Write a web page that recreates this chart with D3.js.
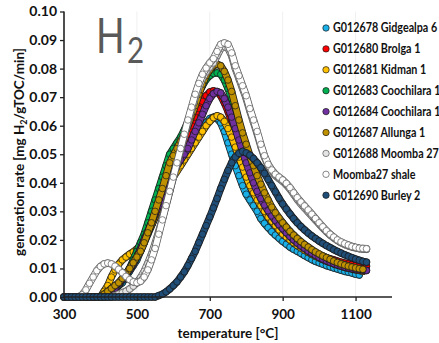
<!DOCTYPE html>
<html><head><meta charset="utf-8">
<script src="https://cdn.jsdelivr.net/npm/d3@7"></script>
<style>
html,body{margin:0;padding:0;background:#fff;}
svg{display:block;}
text{font-family:Lato,"Open Sans",sans-serif;}
</style></head>
<body>
<svg id="c" width="439" height="343"></svg>
<script>
// ---------- data ----------
const temperatures = [
 300,310,320,330,340,350,360,370,380,390,
 400,410,420,430,440,450,460,470,480,490,
 500,510,520,530,540,550,560,570,580,590,
 600,610,620,630,640,650,660,670,680,690,
 700,710,720,730,740,750,760,770,780,790,
 800,810,820,830,840,850,860,870,880,890,
 900,910,920,930,940,950,960,970,980,990,
 1000,1010,1020,1030,1040,1050,1060,1070,1080,1090,
 1100,1110,1120,1130];

const seriesNames = ["G012678 Gidgealpa 6","G012680 Brolga 1","G012681 Kidman 1","G012683 Coochilara 1",
  "G012684 Coochilara 1","G012687 Allunga 1","G012688 Moomba 27","Moomba27 shale","G012690 Burley 2"];
const seriesColors = ["#1ab0e8","#ff0000","#ffc000","#00b050","#7030a0","#bf9000","#e4e4e4","#ffffff","#1f4e79"];

const gidgealpa6 = [
 0,0,0,0,0,0,0,0,0,0,
 0,0,.001,.002,.003,.004,.005,.007,.009,.011,
 .013,.016,.019,.022,.025,.028,.031,.034,.037,.040,
 .043,.045,.047,.049,.051,.053,.055,.057,.059,.061,
 .0625,.063,.0625,.061,.058,.054,.050,.046,.0425,.039,
 .036,.034,.032,.030,.0275,.0258,.0243,.0229,.0217,.0206,
 .0195,.0185,.0175,.0167,.016,.0153,.0145,.0138,.0131,.0125,
 .012,.0115,.011,.0106,.0102,.0098,.0094,.009,.0087,.0084,
 .008,.0077,null,null];
const brolga1 = [
 0,0,0,0,0,0,0,0,0,0,
 0,0,.001,.002,.003,.0045,.006,.008,.010,.012,
 .015,.018,.021,.024,.027,.030,.033,.036,.039,.042,
 .045,.048,.051,.054,.057,.060,.063,.066,.0685,.0705,
 .0718,.0722,.0718,.0705,.068,.065,.0615,.058,.054,.050,
 .0465,.043,.040,.037,.0345,.032,.030,.028,.0265,.025,
 .0235,.0222,.021,.020,.019,.018,.0172,.0164,.0157,.0152,
 .0148,.0143,.0138,.0134,.013,.0126,.0122,.0119,.0116,.0114,
 .0112,.011,.0109,.0108];
const kidman1 = [
 0,0,0,0,0,0,0,0,0,0,
 0,.002,.004,.007,.0095,.0115,.013,.014,.015,.0158,
 .0168,.018,.020,.0225,.025,.028,.031,.034,.037,.040,
 .042,.044,.046,.048,.050,.052,.054,.056,.058,.060,
 .0615,.0628,.0635,.063,.0615,.059,.056,.0525,.049,.0455,
 .042,.039,.0365,.034,.032,.030,.028,.0265,.025,.0235,
 .022,.021,.020,.019,.018,.0172,.0164,.0157,.015,.0143,
 .0137,.0131,.0126,.0121,.0116,.0112,.0108,.0104,.0101,.0098,
 .0095,.0093,.009,null];
const coochilara683 = [
 0,0,0,0,0,0,0,0,0,0,
 0,0,.001,.002,.003,.004,.006,.008,.010,.013,
 .016,.019,.022,.026,.030,.034,.038,.042,.046,.050,
 .052,.054,.056,.0585,.0615,.065,.0685,.0715,.074,.0762,
 .0775,.0783,.0785,.078,.076,.073,.0695,.0655,.061,.0565,
 .052,.048,.044,.041,.038,.035,.0325,.030,.028,.026,
 .0245,.023,.0216,.0204,.0193,.0183,.0174,.0166,.0158,.0151,
 .0144,.0138,.0132,.0127,.0122,.0117,.0113,.0109,.0106,.0103,
 .010,.0098,.0096,null];
const coochilara684 = [
 0,0,0,0,0,0,0,0,0,0,
 0,0,.001,.002,.003,.0045,.006,.008,.0095,.0115,
 .014,.017,.020,.023,.026,.029,.032,.035,.038,.041,
 .044,.046,.048,.050,.052,.055,.058,.061,.064,.067,
 .0695,.0712,.072,.0715,.0695,.0665,.063,.059,.055,.051,
 .047,.0435,.040,.037,.0345,.0322,.0302,.0284,.0268,.0253,
 .0239,.0225,.0212,.020,.0189,.0179,.017,.0161,.0153,.0146,
 .0139,.0133,.0127,.0122,.0117,.0113,.0109,.0105,.0102,.0099,
 .0097,.0095,.0094,.0093];
const allunga1 = [
 0,0,0,0,0,0,0,0,0,0,
 0,.001,.002,.003,.004,.005,.0065,.008,.010,.012,
 .014,.016,.019,.0225,.026,.030,.034,.038,.0425,.047,
 .0495,.052,.0545,.057,.060,.0635,.067,.071,.0745,.0775,
 .0795,.081,.0815,.081,.079,.076,.072,.067,.062,.0575,
 .0535,.0495,.046,.0425,.0395,.0365,.034,.0315,.0295,.0277,
 .026,.0245,.023,.0217,.0205,.0194,.0184,.0175,.0166,.0158,
 .0151,.0144,.0138,.0132,.0126,.0121,.0116,.0112,.0108,.0105,
 .0102,.0099,.0097,null];
const moomba27 = [
 0,0,0,0,0,0,0,0,0,0,
 0,0,0,0,.0005,.001,.0015,.002,.0028,.0038,
 .005,.0068,.009,.0118,.015,.0188,.023,.0275,.0322,.037,
 .0418,.0466,.0514,.0562,.061,.0655,.0698,.0735,.0765,.0788,
 .0805,.082,.0845,.087,.0877,.0872,.0845,.080,.0765,.073,
 .0695,.0652,.0612,.0572,.0528,.049,.046,.044,.0425,.0415,
 .0405,.0393,.0378,.036,.0342,.0326,.0312,.0298,.0284,.027,
 .0256,.0242,.0229,.0217,.0207,.0198,.019,.0184,.0179,.0175,
 .0172,.0169,.0168,.0167];
const moomba27shale = [
 0,0,0,0,0,.0008,.0025,.0048,.007,.0092,
 .0107,.0116,.0119,.0116,.0108,.0097,.0085,.0072,.0061,.0053,
 .005,.0055,.007,.0095,.013,.017,.022,.027,.032,.037,
 .042,.047,.052,.057,.062,.0665,.071,.0748,.078,.0802,
 .082,.0835,.086,.0885,.089,.0885,.0855,.081,.0775,.074,
 .0705,.066,.062,.058,.0535,.0495,.0465,.0445,.043,.042,
 .041,.0398,.0383,.0365,.0348,.0333,.0319,.0305,.029,.0275,
 .026,.0246,.0232,.022,.021,.020,.0193,.0187,.0182,.0177,
 .0174,.0171,.017,.0169];
const burley2 = [
 0,0,0,0,0,0,0,0,0,0,
 0,0,0,0,0,0,0,0,0,0,
 0,0,0,0,0,0,.0005,.001,.0018,.0028,
 .004,.0053,.007,.0088,.011,.0135,.016,.019,.022,.025,
 .028,.0312,.0345,.038,.0412,.0443,.047,.049,.0503,.051,
 .0505,.0497,.0485,.047,.0453,.0433,.0412,.039,.0368,.0346,
 .0326,.0308,.0291,.0275,.026,.0247,.0235,.0224,.0214,.0205,
 .0196,.0188,.018,.0173,.0166,.016,.0154,.0148,.0143,.0138,
 .0133,.0129,.0125,.0122];

const seriesValues = [gidgealpa6, brolga1, kidman1, coochilara683, coochilara684, allunga1, moomba27, moomba27shale, burley2];

const xTicks = [300,500,700,900,1100];
const yTicks = [0,0.01,0.02,0.03,0.04,0.05,0.06,0.07,0.08,0.09,0.10];

// ---------- drawing ----------
const svg = d3.select("#c");
const x = d3.scaleLinear().domain([300,1200]).range([64,392]);
const y = d3.scaleLinear().domain([0,0.10]).range([297,11.5]);

// faint gridlines
svg.append("g").selectAll("line").data(xTicks.slice(1)).join("line")
  .attr("x1",d=>x(d)).attr("x2",d=>x(d)).attr("y1",y(0.10)).attr("y2",y(0))
  .attr("stroke","#f0f0f0").attr("stroke-width",1);

// H2 label
svg.append("text").attr("transform","translate(96,53) scale(0.78,1)")
  .attr("font-family","'Liberation Sans',Arial,sans-serif").attr("fill","#595959")
  .attr("font-size",48).text("H");
svg.append("text").attr("transform","translate(127,63) scale(0.82,1)")
  .attr("font-family","'Liberation Sans',Arial,sans-serif").attr("fill","#595959")
  .attr("font-size",36).text("2");

// series: bead-chain of markers
const line = d3.line().defined(d=>d.v!==null).x(d=>x(d.t)).y(d=>y(d.v));
seriesValues.forEach((vals,i)=>{
  const pts = temperatures.map((t,j)=>({t, v: vals[j]}));
  const white = i===6 || i===7;
  const edge = white ? "#5a5a5a" : "#1a1a1a";
  const g = svg.append("g");
  g.append("path").attr("d",line(pts)).attr("fill","none").attr("stroke",edge)
    .attr("stroke-width",7.4).attr("stroke-linejoin","round").attr("stroke-linecap","round");
  g.append("path").attr("d",line(pts)).attr("fill","none").attr("stroke",seriesColors[i])
    .attr("stroke-width",5.8).attr("stroke-linejoin","round").attr("stroke-linecap","round");
  g.selectAll("circle").data(pts.filter(d=>d.v!==null)).join("circle")
    .attr("cx",d=>x(d.t)).attr("cy",d=>y(d.v)).attr("r",3.3)
    .attr("fill",seriesColors[i]).attr("stroke",edge).attr("stroke-width",0.7);
});

// axes
const yAxis = svg.append("g").attr("transform",`translate(${x(300)},0)`)
  .call(d3.axisLeft(y).tickValues(yTicks).tickFormat(d3.format(".2f")).tickSize(4).tickPadding(3));
const xAxis = svg.append("g").attr("transform",`translate(0,${y(0)})`)
  .call(d3.axisBottom(x).tickValues(xTicks).tickFormat(d3.format("d")).tickSize(4).tickPadding(8));
[yAxis,xAxis].forEach(a=>{
  a.select(".domain").attr("stroke","#222").attr("stroke-width",1.6);
  a.selectAll(".tick line").attr("stroke","#222").attr("stroke-width",1.3);
  a.selectAll("text").attr("font-family","Lato,sans-serif").attr("font-weight","bold")
    .attr("font-size",13.5).attr("fill","#111");
});
yAxis.selectAll("text").attr("font-size",14);
yAxis.select(".domain").attr("d",`M0,${y(0.10)}V${y(0)}`);
xAxis.select(".domain").attr("d",`M${x(300)},0H${x(1200)}`);

// axis titles
svg.append("text").attr("x",228).attr("y",338).attr("text-anchor","middle")
  .attr("font-weight","bold").attr("font-size",13.5).attr("fill","#111")
  .text("temperature [°C]");
const yt = svg.append("text").attr("transform","translate(24,152) rotate(-90)")
  .attr("text-anchor","middle").attr("font-weight","bold").attr("font-size",13.5).attr("fill","#111");
yt.append("tspan").text("generation rate [mg H");
yt.append("tspan").attr("font-size",9).attr("dy",3).text("2");
yt.append("tspan").attr("dy",-3).text("/gTOC/min]");

// legend
const lg = svg.append("g");
seriesNames.forEach((n,i)=>{
  const yy = 28 + i*20.9;
  lg.append("circle").attr("cx",326).attr("cy",yy).attr("r",3.2)
    .attr("fill",seriesColors[i]).attr("stroke", (i===6||i===7)?"#555":"#1a1a1a").attr("stroke-width",0.7);
  lg.append("text").attr("transform",`translate(333,${yy+4.3}) scale(0.86,1)`).attr("font-weight","bold")
    .attr("font-size",12.5).attr("fill","#111").text(n);
});
</script>
</body></html>
